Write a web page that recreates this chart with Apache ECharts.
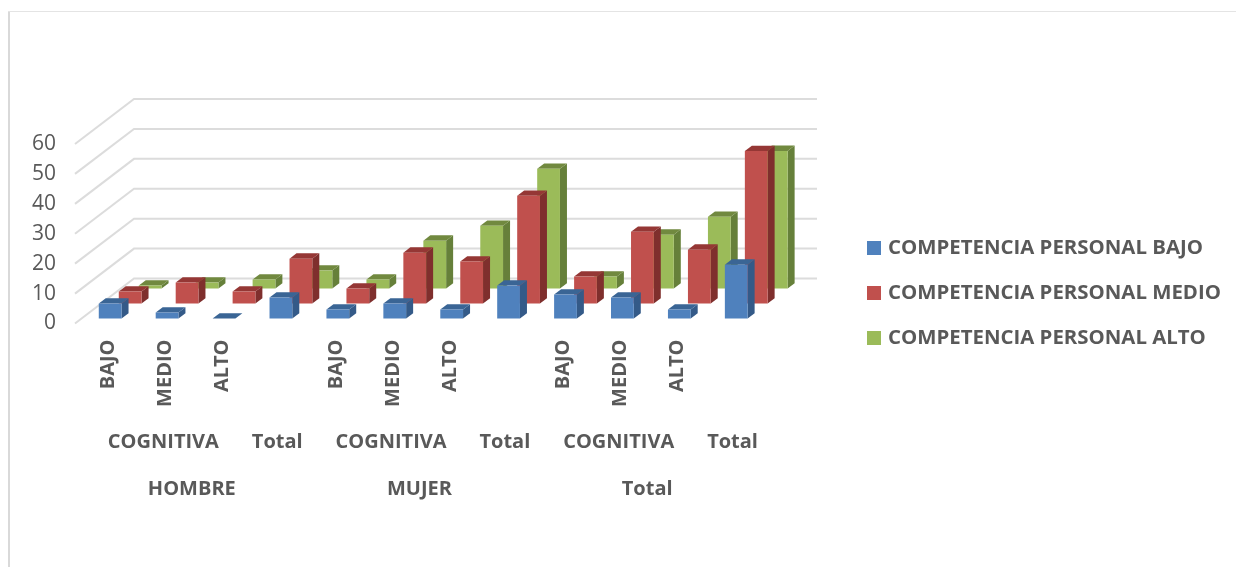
<!DOCTYPE html>
<html>
<head>
<meta charset="utf-8">
<title>Competencia personal</title>
<script src="https://cdn.jsdelivr.net/npm/echarts@6/dist/echarts.min.js"></script>
<style>
  html, body { margin: 0; padding: 0; background: #fff; }
  #chart { width: 1236px; height: 567px; }
</style>
</head>
<body>
<div id="chart"></div>
<script>
const level1 = ['BAJO', 'MEDIO', 'ALTO', '', 'BAJO', 'MEDIO', 'ALTO', '', 'BAJO', 'MEDIO', 'ALTO', '']
const level2 = ['', 'COGNITIVA', '', 'Total', '', 'COGNITIVA', '', 'Total', '', 'COGNITIVA', '', 'Total']
const level3Pos = [1.5, 5.5, 9.5]
const level3 = ['HOMBRE', 'MUJER', 'Total']
const yTicks = [0, 10, 20, 30, 40, 50, 60]

const seriesNames = ['COMPETENCIA PERSONAL BAJO', 'COMPETENCIA PERSONAL MEDIO', 'COMPETENCIA PERSONAL ALTO']
const bajo = [5, 2, 0, 7, 3, 5, 3, 11, 8, 7, 3, 18]
const medio = [4, 7, 4, 15, 5, 17, 14, 36, 9, 24, 18, 51]
const alto = [1, 2, 3, 6, 3, 16, 21, 40, 4, 18, 24, 46]

const labelColor = '#595959'
const labelFont = '"Open Sans", sans-serif'
const gridColor = '#dcdcdc'

// floor depth of the fake 3D box, in px
const depthX = 59
const depthY = -45

function barRenderer (layer, front, side, top) {
  return function (params, api) {
    const i = api.value(0)
    const base = api.coord([i, 0])
    const head = api.coord([i, api.value(1)])
    const w = api.size([1, 0])[0] * 0.4
    const x0 = base[0] - w / 2 + 6.7 + layer * 20
    const x1 = x0 + w
    const y0 = base[1] - 5 - layer * 15
    const y1 = head[1] - 5 - layer * 15
    const dx = 7
    const dy = -5.3
    return {
      type: 'group',
      children: [
        { type: 'polygon', shape: { points: [[x1, y0], [x1 + dx, y0 + dy], [x1 + dx, y1 + dy], [x1, y1]] }, style: { fill: side } },
        { type: 'polygon', shape: { points: [[x0, y1], [x1, y1], [x1 + dx, y1 + dy], [x0 + dx, y1 + dy]] }, style: { fill: top } },
        { type: 'rect', shape: { x: x0, y: y1, width: w, height: y0 - y1 }, style: { fill: front } }
      ]
    }
  }
}

function wallRenderer (params, api) {
  const p = api.coord([0, api.value(0)])
  const left = params.coordSys.x
  const right = left + params.coordSys.width + depthX
  return {
    type: 'polyline',
    shape: { points: [[left, p[1]], [left + depthX, p[1] + depthY], [right, p[1] + depthY]] },
    style: { stroke: gridColor, lineWidth: 2, fill: null }
  }
}

function toPoints (values) {
  return values.map((v, i) => [i, v])
}

const chart = echarts.init(document.getElementById('chart'))
chart.setOption({
  animation: false,
  backgroundColor: '#fff',
  graphic: [
    { type: 'rect', shape: { x: 8, y: 11, width: 2, height: 556 }, style: { fill: '#d9d9d9' } },
    { type: 'rect', shape: { x: 8, y: 11, width: 1228, height: 1 }, style: { fill: '#e4e4e4' } }
  ],
  legend: {
    orient: 'vertical',
    left: 862,
    top: 233,
    icon: 'rect',
    itemWidth: 14,
    itemHeight: 14,
    itemGap: 25,
    data: seriesNames,
    textStyle: { color: labelColor, fontFamily: labelFont, fontWeight: 'bold', fontSize: 20.4, padding: [2, 0, 0, 2], lineHeight: 12 }
  },
  grid: [
    { left: 75, top: 144, width: 683, height: 179.5 },
    // labels under the bars sit a few px right of the floor edge
    { left: 78, top: 144, width: 683, height: 179.5 },
    { left: 80, top: 144, width: 683, height: 179.5 }
  ],
  xAxis: [
    { type: 'category', gridIndex: 0, data: level1, axisLine: { show: false }, axisTick: { show: false }, axisLabel: { show: false } },
    {
      type: 'category',
      gridIndex: 2,
      data: level1,
      axisLine: { show: false },
      axisTick: { show: false },
      axisLabel: { interval: 0, rotate: 90, margin: 16, color: labelColor, fontFamily: labelFont, fontWeight: 'bold', fontSize: 20 }
    },
    {
      type: 'category',
      gridIndex: 1,
      position: 'bottom',
      data: level2,
      axisLine: { show: false },
      axisTick: { show: false },
      axisLabel: { interval: 0, margin: 109, color: labelColor, fontFamily: labelFont, fontWeight: 'bold', fontSize: 20 }
    },
    {
      type: 'value',
      gridIndex: 1,
      position: 'bottom',
      min: -0.5,
      max: 11.5,
      splitLine: { show: false },
      axisLine: { show: false },
      axisTick: { show: false },
      axisLabel: {
        customValues: level3Pos,
        margin: 156,
        color: labelColor,
        fontFamily: labelFont,
        fontWeight: 'bold',
        fontSize: 20,
        formatter: (v) => level3[level3Pos.indexOf(v)]
      }
    }
  ],
  yAxis: [
    {
      type: 'value',
      gridIndex: 0,
      min: 0,
      max: 60,
      interval: 10,
      splitLine: { show: false },
      axisLine: { show: false },
      axisTick: { show: false },
      axisLabel: { margin: 19, padding: [5, 0, 0, 0], color: labelColor, fontFamily: labelFont, fontSize: 21 }
    },
    { type: 'value', gridIndex: 1, min: 0, max: 60, show: false, splitLine: { show: false } },
    { type: 'value', gridIndex: 2, min: 0, max: 60, show: false, splitLine: { show: false } }
  ],
  series: [
    {
      name: 'walls',
      type: 'custom',
      xAxisIndex: 0,
      yAxisIndex: 0,
      z: 1,
      silent: true,
      data: yTicks,
      encode: { y: 0 },
      renderItem: wallRenderer
    },
    {
      name: seriesNames[0],
      type: 'custom',
      xAxisIndex: 0,
      yAxisIndex: 0,
      z: 4,
      itemStyle: { color: '#4f81bd' },
      data: toPoints(bajo),
      encode: { x: 0, y: 1 },
      renderItem: barRenderer(0, '#4f81bd', '#345a88', '#3a6595')
    },
    {
      name: seriesNames[1],
      type: 'custom',
      xAxisIndex: 0,
      yAxisIndex: 0,
      z: 3,
      itemStyle: { color: '#c0504d' },
      data: toPoints(medio),
      encode: { x: 0, y: 1 },
      renderItem: barRenderer(1, '#c0504d', '#7f2f2d', '#953735')
    },
    {
      name: seriesNames[2],
      type: 'custom',
      xAxisIndex: 0,
      yAxisIndex: 0,
      z: 2,
      itemStyle: { color: '#9bbb59' },
      data: toPoints(alto),
      encode: { x: 0, y: 1 },
      renderItem: barRenderer(2, '#9bbb59', '#66803a', '#71893f')
    }
  ]
})
</script>
</body>
</html>
